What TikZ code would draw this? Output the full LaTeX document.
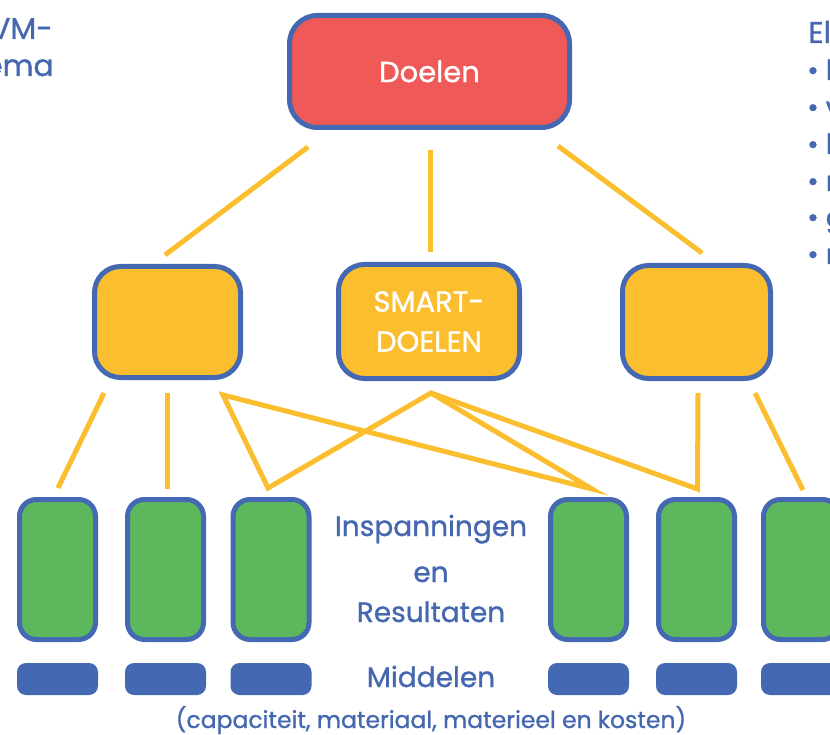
\documentclass[tikz,border=0pt]{standalone}
\usepackage{fontspec}
\setmainfont{Poppins}[FakeBold=1.0]
\usetikzlibrary{calc}

\definecolor{frame}{HTML}{4468B1}
\definecolor{goalfill}{HTML}{EF5957}
\definecolor{subfill}{HTML}{FBBE2E}
\definecolor{effortfill}{HTML}{5DB85D}
\definecolor{ink}{HTML}{4467B0}

\begin{document}
\begin{tikzpicture}[x=1pt,y=-1pt,
  goalbox/.style={draw=frame, fill=goalfill, line width=5pt, rounded corners=28pt,
    inner sep=0pt, text=white, font=\fontsize{29}{36}\selectfont},
  subbox/.style={draw=frame, fill=subfill, line width=5pt, rounded corners=26pt,
    inner sep=0pt, text=white, align=center, font=\fontsize{29}{40}\selectfont},
  effortbox/.style={draw=frame, fill=effortfill, line width=5pt, rounded corners=17pt,
    inner sep=0pt, minimum width=76pt, minimum height=140pt},
  meansbar/.style={fill=frame, rounded corners=9pt, inner sep=0pt,
    minimum width=81pt, minimum height=32pt},
  link/.style={draw=subfill, line width=5pt},
  label/.style={text=ink, inner sep=0pt, font=\fontsize{28}{40}\selectfont},
  small/.style={text=ink, inner sep=0pt, font=\fontsize{23.5}{30}\selectfont},
  side/.style={text=ink, inner sep=0pt, font=\fontsize{30}{36}\selectfont},
]
\useasboundingbox (0,0) rectangle (830,735);
\clip (0,0) rectangle (830,735);

% top goal
\node[goalbox, minimum width=280pt, minimum height=112pt] (goal) at (429.5,71.5) {Doelen};

% middle tier
\node[subbox, minimum width=146pt, minimum height=111pt] (s1) at (167.5,322) {};
\node[subbox, minimum width=181pt, minimum height=114pt] (s2) at (429,321.5) {SMART-\\DOELEN};
\node[subbox, minimum width=148pt, minimum height=113pt] (s3) at (696.5,322) {};

% efforts and results
\foreach \i/\x in {1/57.5, 2/165.5, 3/271, 4/588.5, 5/696.5, 6/801.5} {
  \node[effortbox] (g\i) at (\x,569.5) {};
  \node[meansbar] (m\i) at (\x,679) {};
}

% connectors goal -> middle tier
\draw[link] ($(goal.south)+(-121.5,17)$) -- ($(s1.north)+(-2.5,-9)$);
\draw[link] ($(goal.south)+(0.5,20)$) -- ($(s2.north)+(1,-10)$);
\draw[link] ($(goal.south)+(128.5,16)$) -- ($(s3.north)+(5.5,-10)$);

% connector end points below the middle tier
\coordinate (s1a) at ($(s1.south)+(-63.5,13)$);
\coordinate (s1b) at ($(s1.south)+(-0.5,13)$);
\coordinate (s1c) at ($(s1.south)+(55.5,15)$);
\coordinate (s2a) at ($(s2.south)+(2,12)$);
\coordinate (s3a) at ($(s3.south)+(1.5,12)$);
\coordinate (s3b) at ($(s3.south)+(58.5,12)$);
\coordinate (g1t) at ($(g1.north)+(0.5,-9)$);
\coordinate (g2t) at ($(g2.north)+(1.5,-8)$);
\coordinate (g3t) at ($(g3.north)+(-3,-9)$);
\coordinate (g4t) at ($(g4.north)+(3.5,-8)$);
\coordinate (g5t) at ($(g5.north)+(1,-8)$);
\coordinate (g6t) at ($(g6.north)+(1.5,-7)$);

% connectors middle tier -> efforts
\draw[link] (s1a) -- (g1t);
\draw[link] (s1b) -- (g2t);
\draw[link] (s1c) -- (g3t) -- (s2a) -- (g4t) -- cycle;
\draw[link] (s2a) -- (g5t) -- (s3a);
\draw[link] (s3b) -- (g6t);

% centre labels
\node[label, anchor=base] (lab1) at (431,536) {Inspanningen};
\node[label, anchor=base] (lab2) at (431,582) {en};
\node[label, anchor=base] (lab3) at (431,622) {Resultaten};
\node[label, anchor=base] (lab4) at (431,687) {Middelen};
\node[small, anchor=base] (lab5) at (431,728) {(capaciteit, materiaal, materieel en kosten)};

% side texts
\node[side, anchor=base east] (lt1) at (53,39) {VM-};
\node[side, anchor=base east] (lt2) at (54,76) {ema};
\node[side, anchor=base west] (rt0) at (808,43) {El};
\foreach \y/\w [count=\k] in {80/l, 117/v, 154/l, 191/r, 227/g, 264/r} {
  \node[label, anchor=base west] (rb\k) at (807,\y) {•\hspace{7pt}\w};
}
\end{tikzpicture}
\end{document}
